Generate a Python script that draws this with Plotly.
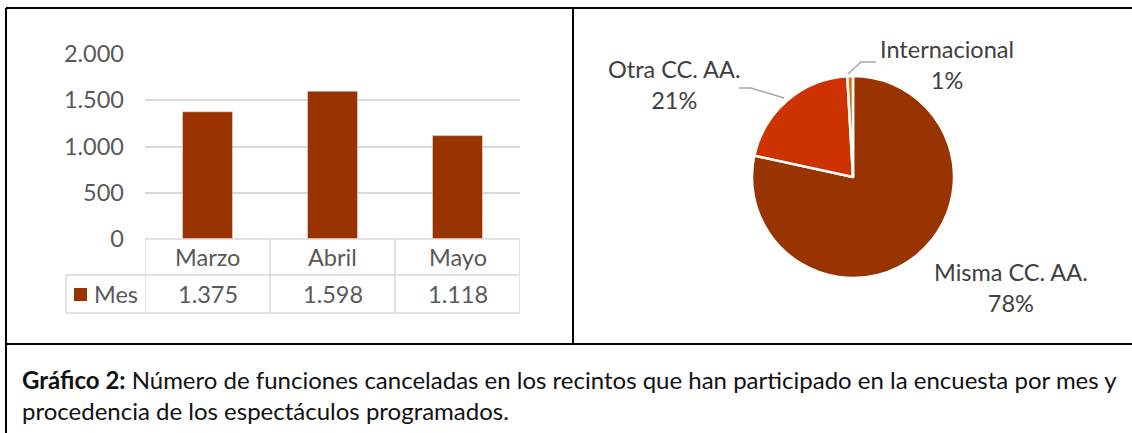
import plotly.graph_objects as go

# bar chart data
meses = ["Marzo", "Abril", "Mayo"]
funciones = [1375, 1598, 1118]
serie = "Mes"
y_ticks = [0, 500, 1000, 1500, 2000]
y_labels = ["0", "500", "1.000", "1.500", "2.000"]

# pie data
procedencia = ["Misma CC. AA.", "Otra CC. AA.", "Internacional"]
porcentaje = [78.4, 20.7, 0.9]

caption_bold = "Gráfico 2:"
caption_line1 = "Número de funciones canceladas en los recintos que han participado en la encuesta por mes y"
caption_line2 = "procedencia de los espectáculos programados."

W, H = 1132, 433
FONT = "Lato"
FS = 23.5
GREY_TXT = "#595959"
PIE_TXT = "#404040"
GRID = "#d9d9d9"
BAR_COL = "#993300"
PIE_COLS = ["#993300", "#cc3300", "#e36c09"]


def px(x):
    return x / W


def py(y):
    return 1 - y / H


fig = go.Figure()

fig.add_trace(go.Bar(x=meses, y=funciones, marker_color=BAR_COL, width=0.4,
                     showlegend=False, hoverinfo="skip"))

fig.add_trace(go.Pie(labels=procedencia, values=porcentaje, sort=False,
                     direction="clockwise", rotation=0,
                     marker=dict(colors=PIE_COLS, line=dict(color="white", width=2.5)),
                     textinfo="none", showlegend=False, hoverinfo="skip",
                     domain=dict(x=[px(752), px(954)], y=[py(278), py(76)])))

x0, x1 = 145, 520
y_axis0, y_row1, y_row2 = 239, 275, 313

fig.update_layout(
    width=W, height=H, margin=dict(l=0, r=0, t=0, b=0, autoexpand=False),
    paper_bgcolor="white", plot_bgcolor="white",
    font=dict(family=FONT, color=GREY_TXT),
    xaxis=dict(domain=[px(x0), px(x1)], showticklabels=False, showgrid=False,
               zeroline=False, showline=False, range=[-0.5, 2.5], automargin=False),
    yaxis=dict(domain=[py(y_axis0), py(54)], range=[0, 2000], tickvals=y_ticks,
               ticktext=y_labels, gridcolor=GRID, gridwidth=1.5, zeroline=False,
               showline=False, tickfont=dict(size=FS, color=GREY_TXT),
               ticklabelstandoff=20, automargin=False),
)

shapes = []
line = dict(color=GRID, width=1.5)
# data table grid
for y in (y_axis0, y_row1, y_row2):
    xs = x0 if y == y_axis0 else 66
    shapes.append(dict(type="line", xref="paper", yref="paper", x0=px(xs), x1=px(x1),
                       y0=py(y), y1=py(y), line=line))
for i in range(len(meses) + 1):
    shapes.append(dict(type="line", xref="x", yref="paper", x0=i - 0.5, x1=i - 0.5,
                       y0=py(y_axis0), y1=py(y_row2), line=line))
shapes.append(dict(type="line", xref="paper", yref="paper", x0=px(66), x1=px(66),
                   y0=py(y_row1), y1=py(y_row2), line=line))

# legend key
shapes.append(dict(type="rect", xref="paper", yref="paper", x0=px(74), x1=px(87),
                   y0=py(301), y1=py(288), fillcolor=BAR_COL, line=dict(width=0)))

# pie leader lines
lead = dict(color="#a6a6a6", width=1.5)
shapes.append(dict(type="path", xref="paper", yref="paper",
                   path=f"M {px(739)} {py(88)} L {px(751)} {py(88)} L {px(784)} {py(98)}",
                   line=lead))
shapes.append(dict(type="path", xref="paper", yref="paper",
                   path=f"M {px(848)} {py(74)} L {px(861)} {py(62)} L {px(876)} {py(62)}",
                   line=lead))

# frame lines
frame = dict(color="black", width=2)
shapes += [
    dict(type="line", xref="paper", yref="paper", x0=px(6), x1=1, y0=py(8), y1=py(8), line=frame),
    dict(type="line", xref="paper", yref="paper", x0=px(6), x1=px(6), y0=py(8), y1=0, line=frame),
    dict(type="line", xref="paper", yref="paper", x0=px(573), x1=px(573), y0=py(8), y1=py(344), line=frame),
    dict(type="line", xref="paper", yref="paper", x0=px(6), x1=1, y0=py(344), y1=py(344), line=frame),
]

txt = dict(size=FS, color=GREY_TXT)
annotations = []
for m, v in zip(meses, funciones):
    annotations.append(dict(x=m, xref="x", y=py((y_axis0 + y_row1) / 2), yref="paper",
                            yanchor="middle", text=m, showarrow=False, font=txt))
    annotations.append(dict(x=m, xref="x", y=py((y_row1 + y_row2) / 2), yref="paper",
                            yanchor="middle", text=f"{v:,}".replace(",", "."),
                            showarrow=False, font=txt))
annotations.append(dict(x=px(92), xref="paper", y=py(294), yref="paper", text=serie,
                        xanchor="left", yanchor="middle", showarrow=False, font=txt))

# pie labels
total = sum(porcentaje)
label_pos = [(1011, 287), (674, 84), (947, 64)]
for name, val, (lx, ly) in zip(procedencia, porcentaje, label_pos):
    annotations.append(dict(x=px(lx), y=py(ly), xref="paper", yref="paper",
                            xanchor="center", yanchor="middle",
                            text=f"{name}<br>{round(100 * val / total)}%", showarrow=False,
                            font=dict(size=FS, color=PIE_TXT)))

annotations.append(dict(x=px(20), y=py(394.5), xref="paper", yref="paper", xanchor="left",
                        yanchor="middle", align="left", showarrow=False,
                        font=dict(size=24, color="#111111", family=FONT),
                        text=f"<b>{caption_bold}</b> {caption_line1}<br>{caption_line2}"))

fig.update_layout(shapes=shapes, annotations=annotations)

pin = ("document.body.style.margin='0';document.body.style.overflow='hidden';")
fig.write_html("out.html", config={"displayModeBar": False}, post_script=pin)
